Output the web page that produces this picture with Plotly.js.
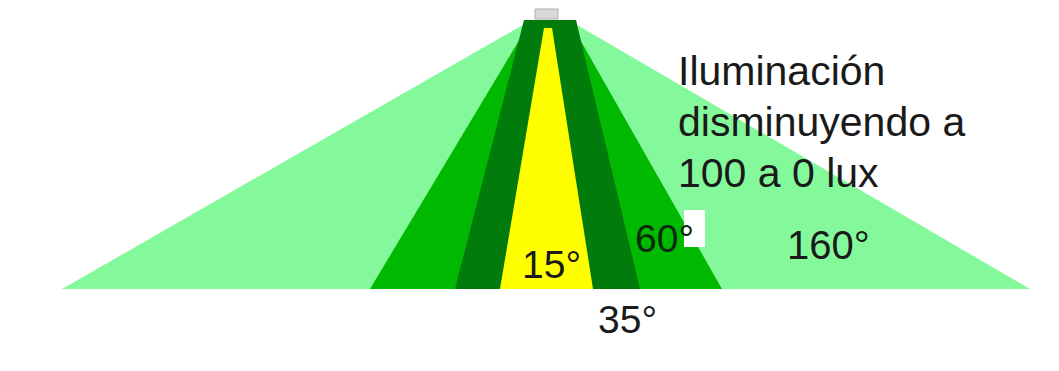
<!DOCTYPE html>
<html>
<head>
<meta charset="utf-8">
<script src="https://cdn.plot.ly/plotly-3.0.1.min.js"></script>
<style>html,body{margin:0;padding:0;background:#fff;}#chart{width:1059px;height:371px;}</style>
</head>
<body>
<div id="chart"></div>
<script>
// Beam cones: widest to narrowest
const beamLabels = ['160°', '60°', '35°', '15°'];
const baseLeft  = [62, 370, 455, 500];
const baseRight = [1030, 722, 640, 593];
const topLeft   = [528, 530, 524, 544];
const topRight  = [572, 570, 576, 552];
const topY      = [22, 22, 20, 28];
const baseY     = 289;
const noteLines = ['Iluminación', 'disminuyendo a', '100 a 0 lux'];

const beamColors = ['#84f99b', '#00b900', '#017b0c', '#ffff00'];

const traces = beamLabels.map((lab, i) => ({
  type: 'scatter',
  mode: 'lines',
  x: [baseLeft[i], topLeft[i], topRight[i], baseRight[i], baseLeft[i]],
  y: [baseY, topY[i], topY[i], baseY, baseY],
  fill: 'toself',
  fillcolor: beamColors[i],
  line: {width: 0, color: beamColors[i]},
  name: lab,
  hoverinfo: 'skip',
  showlegend: false
}));

const font = 'Liberation Sans, Arial, sans-serif';
const txt = '#1a1a1a';
const annotations = [
  {x: 551, y: 264, text: beamLabels[3], size: 39},
  {x: 664, y: 238, text: beamLabels[1], size: 39, color: '#0c2a0c'},
  {x: 627, y: 319, text: beamLabels[2], size: 39},
  {x: 828, y: 245, text: beamLabels[0], size: 40}
].map(a => ({
  x: a.x, y: a.y, xref: 'x', yref: 'y', text: a.text, showarrow: false,
  xanchor: 'center', yanchor: 'middle',
  font: {family: font, size: a.size, color: a.color || txt}
}));
const noteBase = [71, 122, 173];
noteLines.forEach((t, i) => annotations.push({
  x: 676, y: noteBase[i], xref: 'x', yref: 'y', text: t, showarrow: false,
  xanchor: 'left', yanchor: 'middle',
  font: {family: font, size: 41, color: txt}
}));

const layout = {
  width: 1059, height: 371,
  margin: {l: 0, r: 0, t: 0, b: 0},
  paper_bgcolor: '#ffffff', plot_bgcolor: '#ffffff',
  xaxis: {range: [0, 1059], visible: false, fixedrange: true},
  yaxis: {range: [371, 0], visible: false, fixedrange: true},
  showlegend: false,
  shapes: [
    {type: 'rect', xref: 'x', yref: 'y', x0: 535, x1: 558, y0: 9, y1: 19,
     fillcolor: '#d9d9d9', line: {color: '#b0b0b0', width: 1}, layer: 'above'},
    {type: 'rect', xref: 'x', yref: 'y', x0: 684, x1: 705, y0: 210, y1: 247,
     fillcolor: '#ffffff', line: {width: 0}, layer: 'above'}
  ],
  annotations: annotations
};

Plotly.newPlot('chart', traces, layout, {displayModeBar: false, staticPlot: true});
</script>
</body>
</html>
